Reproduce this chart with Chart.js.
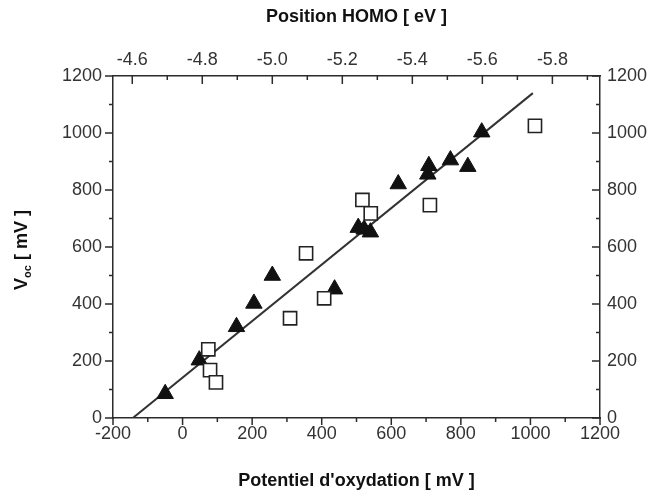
<!DOCTYPE html>
<html>
<head>
<meta charset="utf-8">
<script src="https://cdn.jsdelivr.net/npm/chart.js@4.4.0/dist/chart.umd.min.js"></script>
<style>
  html, body { margin: 0; padding: 0; background: #fff; }
  #wrap { width: 659px; height: 494px; }
</style>
</head>
<body>
<div id="wrap"><canvas id="myChart" width="659" height="494"></canvas></div>
<script>
// triangles (filled)
var triX = [-50, 48, 155, 205, 258, 437, 505, 522, 540, 620, 705, 708, 770, 820, 860];
var triY = [85, 203, 320, 402, 500, 452, 668, 662, 652, 821, 855, 885, 905, 882, 1003];
// open squares
var sqX = [74, 79, 96, 309, 355, 407, 517, 541, 711, 1013];
var sqY = [241, 168, 125, 350, 578, 420, 765, 718, 747, 1025];
// linear fit
var fitX = [-143, 1007];
var fitY = [0, 1140];

var bottomTicks = [-200, -100, 0, 100, 200, 300, 400, 500, 600, 700, 800, 900, 1000, 1100, 1200];
var leftTicks = [0, 100, 200, 300, 400, 500, 600, 700, 800, 900, 1000, 1100, 1200];
var topTicks = [-4.6, -4.7, -4.8, -4.9, -5.0, -5.1, -5.2, -5.3, -5.4, -5.5, -5.6, -5.7, -5.8, -5.9];

function pts(xs, ys) {
    return xs.map(function (x, i) { return { x: x, y: ys[i] }; });
}

function majors(list) {
    return function (axis) {
        axis.ticks = list.filter(function (v, i) { return i % 2 === 0; }).map(function (v) { return { value: v }; });
    };
}

var FONT = "'Liberation Sans', Arial, sans-serif";
var tickFont = { family: FONT, size: 18 };
var plain = function (v) { return String(v); };

const tickMarks = {
    id: "tickMarks",
    afterDraw(chart) {
        const ctx = chart.ctx;
        const a = chart.chartArea;
        const s = chart.scales;
        ctx.save();
        ctx.strokeStyle = "#2b2b2b";
        ctx.lineWidth = 1.5;
        ctx.beginPath();
        bottomTicks.forEach(function (v, i) {
            var px = s.x.getPixelForValue(v);
            ctx.moveTo(px, a.bottom);
            ctx.lineTo(px, a.bottom + (i % 2 === 0 ? 7 : 4));
        });
        leftTicks.forEach(function (v, i) {
            var py = s.y.getPixelForValue(v);
            ctx.moveTo(a.left, py);
            ctx.lineTo(a.left - (i % 2 === 0 ? 8 : 4), py);
            // right axis, inward
            ctx.moveTo(a.right, py);
            ctx.lineTo(a.right - (i % 2 === 0 ? 8 : 4), py);
        });
        topTicks.forEach(function (v, i) {
            var px = s.x2.getPixelForValue(v);
            if (px > a.right - 1) return;
            ctx.moveTo(px, a.top);
            ctx.lineTo(px, a.top + (i % 2 === 0 ? 8 : 4));
        });
        ctx.stroke();

        // y title with subscript
        ctx.translate(22, 250);
        ctx.rotate(-Math.PI / 2);
        ctx.fillStyle = "#111";
        ctx.textBaseline = "middle";
        var big = "bold 18px " + FONT;
        var small = "bold 11px " + FONT;
        ctx.font = big;
        var wV = ctx.measureText("V").width;
        var wRest = ctx.measureText(" [ mV ]").width;
        ctx.font = small;
        var wSub = ctx.measureText("oc").width;
        var x0 = -(wV + wSub + wRest) / 2;
        ctx.font = big;
        ctx.fillText("V", x0, 0);
        ctx.font = small;
        ctx.fillText("oc", x0 + wV, 6);
        ctx.font = big;
        ctx.fillText(" [ mV ]", x0 + wV + wSub, 0);
        ctx.restore();
    }
};

const ctx = document.getElementById("myChart").getContext("2d");

const myChart = new Chart(ctx, {
    type: "scatter",
    data: {
        datasets: [
            {
                type: "line",
                data: pts(fitX, fitY),
                borderColor: "#333",
                borderWidth: 2,
                pointRadius: 0,
                fill: false,
                order: 3,
            },
            {
                data: pts(triX, triY),
                pointStyle: "triangle",
                pointRadius: 9.5,
                backgroundColor: "#111",
                borderColor: "#111",
                borderWidth: 1,
                order: 2,
            },
            {
                data: pts(sqX, sqY),
                pointStyle: "rect",
                pointRadius: 9.3,
                backgroundColor: "#fff",
                borderColor: "#222",
                borderWidth: 1.6,
                order: 1,
            },
        ],
    },
    options: {
        responsive: false,
        animation: false,
        layout: { padding: 0 },
        plugins: {
            legend: { display: false },
            tooltip: { enabled: false },
        },
        scales: {
            x: {
                type: "linear",
                position: "bottom",
                min: -200,
                max: 1200,
                afterFit: function (scale) { scale.height = 76; },
                afterBuildTicks: majors(bottomTicks),
                grid: { display: true, drawOnChartArea: false, drawTicks: false },
                border: { display: true, color: "#2b2b2b", width: 1.5 },
                ticks: { font: tickFont, color: "#333", padding: 5, maxRotation: 0, autoSkip: false, callback: plain },
                title: {
                    display: true,
                    text: "Potentiel d'oxydation [ mV ]",
                    font: { family: FONT, size: 18, weight: "bold" },
                    color: "#111",
                    padding: { top: 0, bottom: 2 },
                },
            },
            x2: {
                type: "linear",
                position: "top",
                reverse: true,
                min: -5.936,
                max: -4.545,
                afterFit: function (scale) { scale.height = 76; },
                afterBuildTicks: function (axis) {
                    axis.ticks = topTicks.filter(function (v, i) { return i % 2 === 0 && v > -5.9; }).map(function (v) { return { value: v }; });
                },
                grid: { display: true, drawOnChartArea: false, drawTicks: false },
                border: { display: true, color: "#2b2b2b", width: 1.5 },
                ticks: {
                    font: tickFont,
                    color: "#333",
                    padding: 5,
                    maxRotation: 0,
                    autoSkip: false,
                    callback: function (v) { return v.toFixed(1); },
                },
                title: {
                    display: true,
                    text: "Position HOMO [ eV ]",
                    font: { family: FONT, size: 18, weight: "bold" },
                    color: "#111",
                    padding: { top: 6, bottom: 0 },
                },
            },
            y: {
                type: "linear",
                position: "left",
                min: 0,
                max: 1200,
                afterFit: function (scale) { scale.width = 113; },
                afterBuildTicks: majors(leftTicks),
                grid: { display: true, drawOnChartArea: false, drawTicks: false },
                border: { display: true, color: "#2b2b2b", width: 1.5 },
                ticks: { font: tickFont, color: "#333", padding: 11, callback: plain },
            },
            y2: {
                type: "linear",
                position: "right",
                min: 0,
                max: 1200,
                afterFit: function (scale) { scale.width = 59; },
                afterBuildTicks: majors(leftTicks),
                grid: { display: true, drawOnChartArea: false, drawTicks: false },
                border: { display: true, color: "#2b2b2b", width: 1.5 },
                ticks: { font: tickFont, color: "#333", padding: 7, callback: plain },
            },
        },
    },
    plugins: [tickMarks],
});
</script>
</body>
</html>
